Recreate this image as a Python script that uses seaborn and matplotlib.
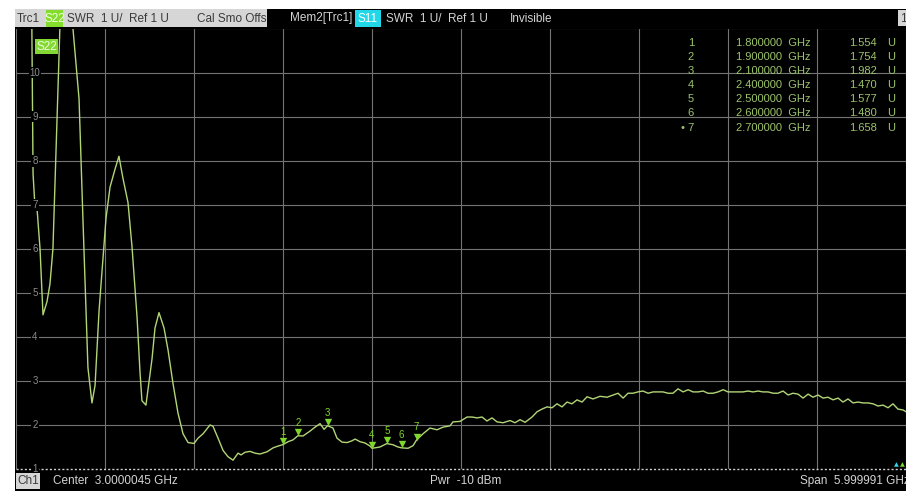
import numpy as np
import pandas as pd
import matplotlib
matplotlib.use("Agg")
import matplotlib.pyplot as plt
import matplotlib.transforms as mtransforms
from matplotlib.patches import Rectangle
import seaborn as sns

# S22 SWR trace (MHz, U)
freq_mhz = [
    0, 80, 115, 128, 142, 162, 182, 209, 229, 249,
    276, 324, 364, 384, 425, 452, 485, 512, 533, 560,
    587, 607, 634, 667, 694, 721, 755, 782, 816, 836,
    849, 876, 917, 937, 964, 998, 1025, 1058, 1092, 1126,
    1160, 1200, 1227, 1261, 1308, 1328, 1362, 1396, 1429, 1463,
    1497, 1517, 1544, 1578, 1611, 1645, 1692, 1733, 1766, 1800,
    1834, 1867, 1900, 1935, 1982, 2016, 2050, 2077, 2100, 2137,
    2164, 2198, 2232, 2265, 2286, 2319, 2353, 2387, 2400, 2454,
    2500, 2542, 2575, 2600, 2643, 2677, 2700, 2744, 2791, 2838,
    2879, 2926, 2946, 2993, 3041, 3074, 3108, 3142, 3175, 3209,
    3243, 3283, 3331, 3364, 3398, 3432, 3479, 3513, 3546, 3580,
    3614, 3647, 3681, 3715, 3748, 3782, 3816, 3850, 3890, 3937,
    3985, 4025, 4059, 4093, 4126, 4160, 4193, 4227, 4261, 4295,
    4328, 4362, 4396, 4429, 4463, 4497, 4531, 4564, 4598, 4632,
    4665, 4699, 4733, 4767, 4800, 4834, 4868, 4901, 4935, 4969,
    5003, 5036, 5070, 5104, 5137, 5171, 5205, 5238, 5272, 5306,
    5340, 5373, 5407, 5441, 5474, 5508, 5542, 5575, 5609, 5643,
    5676, 5710, 5744, 5778, 5811, 5845, 5879, 5912, 5946, 5980,
    6000,
]
swr = [
    25, 22, 7.7, 6.95, 6.9, 6.0, 4.5, 4.8, 5.2, 6.0,
    8.9, 14, 13, 11, 9.4, 6.6, 3.3, 2.5, 2.9, 4.6,
    5.8, 6.7, 7.4, 7.8, 8.1, 7.6, 7.05, 6.05, 4.45, 3.2,
    2.55, 2.45, 3.5, 4.2, 4.55, 4.2, 3.7, 2.95, 2.27, 1.8,
    1.6, 1.58, 1.7, 1.8, 2.0, 1.97, 1.7, 1.42, 1.28, 1.2,
    1.36, 1.32, 1.38, 1.4, 1.36, 1.34, 1.39, 1.48, 1.52, 1.554,
    1.62, 1.66, 1.754, 1.75, 1.86, 1.95, 2.03, 1.9, 1.982, 1.93,
    1.7, 1.61, 1.6, 1.64, 1.68, 1.62, 1.59, 1.52, 1.47, 1.5,
    1.577, 1.55, 1.5, 1.48, 1.47, 1.53, 1.658, 1.8, 1.93, 1.89,
    1.95, 1.98, 2.07, 2.08, 2.18, 2.18, 2.16, 2.18, 2.09, 2.16,
    2.07, 2.05, 2.1, 2.05, 2.12, 2.06, 2.18, 2.3, 2.36, 2.41,
    2.39, 2.48, 2.41, 2.52, 2.48, 2.57, 2.52, 2.64, 2.59, 2.65,
    2.63, 2.68, 2.72, 2.61, 2.72, 2.72, 2.75, 2.77, 2.72, 2.75,
    2.75, 2.75, 2.72, 2.72, 2.82, 2.75, 2.8, 2.75, 2.75, 2.77,
    2.72, 2.72, 2.75, 2.8, 2.75, 2.75, 2.75, 2.75, 2.77, 2.75,
    2.77, 2.75, 2.75, 2.72, 2.72, 2.77, 2.68, 2.72, 2.7, 2.61,
    2.7, 2.63, 2.68, 2.61, 2.63, 2.57, 2.61, 2.52, 2.59, 2.5,
    2.52, 2.5, 2.5, 2.48, 2.43, 2.45, 2.39, 2.48, 2.36, 2.34,
    2.3,
]

# marker table
marker_ids = ['1', '2', '3', '4', '5', '6', '7']
marker_ghz = [1.8, 1.9, 2.1, 2.4, 2.5, 2.6, 2.7]
marker_swr = [1.554, 1.754, 1.982, 1.470, 1.577, 1.480, 1.658]

y_labels = [1, 2, 3, 4, 5, 6, 7, 8, 9, 10]

TRACE = '#b2d676'
MARK = '#7fd62c'
TABLE = '#9cc46a'
GRID = '#747474'
TXT = '#d4d4d4'
BOXGRAY = '#d6d6d6'

W, H = 906, 493


def fx(x):
    return x / W


def fy(y):
    return 1 - y / H


sns.set_style('dark')
plt.rcParams['font.family'] = ['Liberation Sans', 'DejaVu Sans']

fig = plt.figure(figsize=(W / 100, H / 100), dpi=100, facecolor='white')


def box(x0, y0, x1, y1, color, z=2):
    fig.patches.append(Rectangle((fx(x0), fy(y1)), (x1 - x0) / W, (y1 - y0) / H,
                                 transform=fig.transFigure, facecolor=color,
                                 edgecolor='none', zorder=z))


# instrument screen background
box(15, 9, W, 491, 'black', z=-5)

ax = fig.add_axes([fx(16), fy(469), 890 / W, (469 - 28.5) / H])
ax.set_zorder(1)
ax.set_facecolor('black')

df = pd.DataFrame({'GHz': np.array(freq_mhz) / 1000.0, 'SWR': swr})
sns.lineplot(data=df, x='GHz', y='SWR', ax=ax, color=TRACE, linewidth=1.0,
             estimator=None, zorder=3)

ax.set_xlim(0, 6)
ax.set_ylim(1, 11)
ax.set_xticks(np.arange(0, 6.01, 0.6))
ax.set_yticks(range(2, 12))
ax.grid(True, color=GRID, linewidth=0.8)
ax.tick_params(length=0, labelbottom=False, labelleft=False)
ax.set_xlabel('')
ax.set_ylabel('')
for s in ax.spines.values():
    s.set_visible(False)
ax.axhline(1, color='#cfcfcf', linestyle=(0, (1.5, 1.5)), linewidth=1.0,
           clip_on=False, zorder=4)

# scale labels inside the grid
lab_tf = mtransforms.blended_transform_factory(ax.transAxes, ax.transData)
for v in y_labels:
    ax.text(0.0213, v, str(v), transform=lab_tf, ha='center', va='center',
            fontsize=7, color='#8c8c8c', zorder=5,
            bbox=dict(facecolor='black', edgecolor='none', pad=0.6))

# markers
tri_tf = mtransforms.offset_copy(ax.transData, fig=fig, x=0, y=3.5, units='dots')
ax.scatter(marker_ghz, marker_swr, marker='v', s=28, color=MARK,
           linewidths=0, transform=tri_tf, zorder=6, clip_on=False)
for mid, g, v in zip(marker_ids, marker_ghz, marker_swr):
    ax.annotate(mid, (g, v), xytext=(0, 13), textcoords='offset pixels',
                ha='center', va='center', fontsize=7, color=MARK, zorder=6)

# S22 label in the plot
box(35, 39, 58, 54, '#84d834', z=3)
fig.text(fx(46.5), fy(46.5), 'S22', ha='center', va='center', fontsize=8.5,
         color='#eaffd8', zorder=4)

# header line
box(15, 9, 267, 27, BOXGRAY)
box(46, 10, 63, 27, '#84dc2c', z=2.5)
hy = fy(18.5)
fig.text(fx(17), hy, 'Trc1', ha='left', va='center', fontsize=8.5, color='#3a3a3a')
fig.text(fx(54.5), hy, 'S22', ha='center', va='center', fontsize=8.5, color='#f2ffe6')
fig.text(fx(67), hy, 'SWR  1 U/  Ref 1 U', ha='left', va='center', fontsize=8.5,
         color='#3a3a3a')
fig.text(fx(197), hy, 'Cal Smo Offs', ha='left', va='center', fontsize=8.5,
         color='#3a3a3a')
fig.text(fx(290), hy, 'Mem2[Trc1]', ha='left', va='center', fontsize=8.5, color=TXT)
box(355, 10, 381, 27, '#22d8e8')
fig.text(fx(368), hy, 'S11', ha='center', va='center', fontsize=8.5, color='white')
fig.text(fx(386), hy, 'SWR  1 U/  Ref 1 U', ha='left', va='center', fontsize=8.5,
         color=TXT)
fig.text(fx(510), hy, 'Invisible', ha='left', va='center', fontsize=8.5, color=TXT)
box(898, 10, W, 26, BOXGRAY)
fig.text(fx(900), hy, '1', ha='left', va='center', fontsize=8.5, color='#3a3a3a')

# marker table (top right)
for i, (mid, g, v) in enumerate(zip(marker_ids, marker_ghz, marker_swr)):
    ty = fy(42.5 + 14.2 * i)
    lab = ('\u2022 ' + mid) if i == len(marker_ids) - 1 else mid
    fig.text(fx(694), ty, lab, ha='right', va='center', fontsize=8, color=TABLE,
             zorder=4)
    fig.text(fx(736), ty, f'{g:.6f}  GHz', ha='left', va='center', fontsize=8,
             color=TABLE, zorder=4)
    fig.text(fx(877), ty, f'{v:.3f}', ha='right', va='center', fontsize=8,
             color=TABLE, zorder=4)
    fig.text(fx(887), ty, 'U', ha='left', va='center', fontsize=8, color=TABLE,
             zorder=4)

# footer line
fy_ = fy(481)
box(16, 473, 40, 489, BOXGRAY)
fig.text(fx(28), fy_, 'Ch1', ha='center', va='center', fontsize=8.5, color='#3a3a3a')
fig.text(fx(53), fy_, 'Center  3.0000045 GHz', ha='left', va='center',
         fontsize=8.5, color=TXT)
fig.text(fx(430), fy_, 'Pwr  -10 dBm', ha='left', va='center', fontsize=8.5, color=TXT)
fig.text(fx(800), fy_, 'Span  5.999991 GHz', ha='left', va='center', fontsize=8.5,
         color=TXT)

# stimulus arrows at bottom right
fig.text(fx(896), fy(465), '\u25b2', ha='center', va='center', fontsize=4.5,
         color='#30d8e8', family='DejaVu Sans', zorder=4)
fig.text(fx(902), fy(465), '\u25b2', ha='center', va='center', fontsize=4.5,
         color=MARK, family='DejaVu Sans', zorder=4)

fig.savefig('out.png', dpi=100, facecolor='white')
